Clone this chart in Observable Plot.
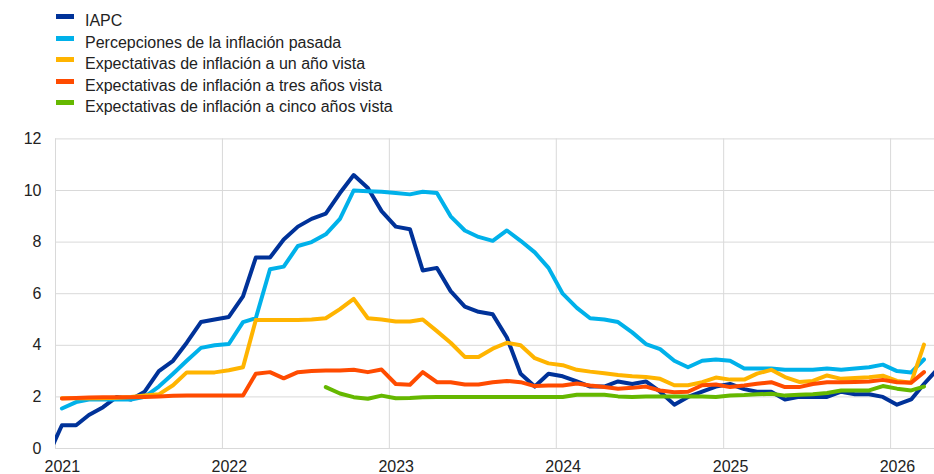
<!DOCTYPE html>
<html>
<head>
<meta charset="utf-8">
<script src="https://cdn.jsdelivr.net/npm/d3@7"></script>
<script src="https://cdn.jsdelivr.net/npm/@observablehq/plot@0.6"></script>
<style>
  body { margin: 0; background: #fff; font-family: "Liberation Sans", Arial, sans-serif; }
  #legend { position: relative; width: 934px; height: 118px; }
  .row { position: absolute; left: 0; height: 21.5px; line-height: 21.5px; font-size: 16px; color: #222; }
  .sw { position: absolute; left: 56px; top: 4px; width: 18px; height: 5px; }
  .lab { position: absolute; left: 85px; top: 0; white-space: nowrap; }
  #chart svg { display: block; }
</style>
</head>
<body>
<div id="legend"></div>
<div id="chart"></div>
<script>
// ---- Series names and colours ----
const seriesNames = [
  "IAPC",
  "Percepciones de la inflación pasada",
  "Expectativas de inflación a un año vista",
  "Expectativas de inflación a tres años vista",
  "Expectativas de inflación a cinco años vista"
];
const seriesColors = ["#003299", "#00B1EA", "#FFB400", "#FF4B00", "#65B800"];

// ---- Monthly values (annual % change) ----
// IAPC: Dec 2020 – Apr 2026
const iapcStart = [2020, 11];
const iapc = [-0.3,
  0.9, 0.9, 1.3, 1.6, 2.0, 1.9, 2.2, 3.0, 3.4, 4.1, 4.9, 5.0,
  5.1, 5.9, 7.4, 7.4, 8.1, 8.6, 8.9, 9.1, 9.9, 10.6, 10.1, 9.2,
  8.6, 8.5, 6.9, 7.0, 6.1, 5.5, 5.3, 5.2, 4.3, 2.9, 2.4, 2.9,
  2.8, 2.6, 2.4, 2.4, 2.6, 2.5, 2.6, 2.2, 1.7, 2.0, 2.2, 2.4,
  2.5, 2.3, 2.2, 2.2, 1.9, 2.0, 2.0, 2.0, 2.2, 2.1, 2.1, 2.0,
  1.7, 1.9, 2.5, 3.1];

// Survey series: Jan 2021 – Mar 2026
const surveyStart = [2021, 0];
const perceived = [
  1.55, 1.8, 1.9, 1.9, 1.9, 1.9, 2.0, 2.4, 2.9, 3.4, 3.9, 4.0,
  4.05, 4.9, 5.05, 6.95, 7.05, 7.85, 8.0, 8.3, 8.9, 10.0, 9.97, 9.95,
  9.9, 9.85, 9.95, 9.9, 9.0, 8.45, 8.2, 8.05, 8.45, 8.05, 7.6, 7.0,
  6.0, 5.45, 5.05, 5.0, 4.9, 4.5, 4.05, 3.85, 3.4, 3.15, 3.4, 3.45,
  3.4, 3.1, 3.1, 3.1, 3.05, 3.05, 3.05, 3.1, 3.05, 3.1, 3.15, 3.25,
  3.0, 2.95, 3.45];
const oneYear = [
  1.95, 1.95, 1.95, 1.95, 1.97, 2.0, 2.05, 2.1, 2.45, 2.95, 2.95, 2.95,
  3.03, 3.15, 4.98, 4.98, 4.98, 4.98, 5.0, 5.05, 5.4, 5.8, 5.05, 5.0,
  4.92, 4.92, 5.0, 4.55, 4.1, 3.55, 3.55, 3.87, 4.1, 4.0, 3.5, 3.3,
  3.23, 3.05, 2.98, 2.92, 2.85, 2.8, 2.77, 2.7, 2.45, 2.45, 2.57, 2.75,
  2.67, 2.67, 2.9, 3.05, 2.77, 2.58, 2.62, 2.83, 2.7, 2.73, 2.76, 2.82,
  2.62, 2.55, 4.03];
const threeYear = [
  1.94, 1.96, 1.98, 1.99, 1.99, 1.99, 2.0, 2.02, 2.04, 2.05, 2.05, 2.05,
  2.05, 2.05, 2.9, 2.96, 2.72, 2.96, 3.0, 3.02, 3.02, 3.05, 2.96, 3.06,
  2.5, 2.47, 2.96, 2.57, 2.57, 2.48, 2.48, 2.57, 2.62, 2.57, 2.42, 2.44,
  2.44, 2.52, 2.44, 2.38, 2.32, 2.35, 2.4, 2.25, 2.18, 2.2, 2.45, 2.48,
  2.38, 2.44, 2.51, 2.57, 2.38, 2.38, 2.5, 2.57, 2.57, 2.58, 2.6, 2.66,
  2.57, 2.55, 2.96];
// Five-year-ahead: Aug 2022 – Mar 2026
const fiveYearStart = [2022, 7];
const fiveYear = [
  2.38, 2.13, 1.99, 1.93, 2.05,
  1.95, 1.96, 1.99, 2.0, 2.0, 2.0, 2.0, 2.0, 2.0, 2.0, 2.0, 2.0,
  2.0, 2.08, 2.08, 2.08, 2.02, 2.0, 2.02, 2.02, 2.02, 2.02, 2.02, 2.0,
  2.05, 2.07, 2.1, 2.12, 2.05, 2.08, 2.1, 2.15, 2.25, 2.25, 2.25, 2.42,
  2.32, 2.25, 2.4];

// ---- Axis ticks ----
const yearLabels = [2021, 2022, 2023, 2024, 2025, 2026];
const yTicks = [0, 2, 4, 6, 8, 10, 12];

// ---- Build table ----
function toRows(name, start, values) {
  return values.map((v, i) => ({
    series: name,
    date: new Date(Date.UTC(start[0], start[1] + i, 15)),
    value: v
  }));
}
const seriesData = [
  toRows(seriesNames[0], iapcStart, iapc),
  toRows(seriesNames[1], surveyStart, perceived),
  toRows(seriesNames[2], surveyStart, oneYear),
  toRows(seriesNames[3], surveyStart, threeYear),
  toRows(seriesNames[4], fiveYearStart, fiveYear)
];

// ---- Legend ----
const legend = document.getElementById("legend");
seriesNames.forEach((name, i) => {
  const row = document.createElement("div");
  row.className = "row";
  row.style.top = (10.25 + 21.5 * i) + "px";
  row.style.width = "934px";
  const sw = document.createElement("span");
  sw.className = "sw";
  sw.style.background = seriesColors[i];
  const lab = document.createElement("span");
  lab.className = "lab";
  lab.textContent = name;
  row.appendChild(sw);
  row.appendChild(lab);
  legend.appendChild(row);
});

// ---- Chart ----
const yearStarts = yearLabels.map(y => new Date(Date.UTC(y, 0, 1)));
const yearMids = yearLabels.map(y => new Date(Date.UTC(y, 0, 16)));

const chart = Plot.plot({
  width: 934,
  height: 356,
  marginLeft: 55,
  marginRight: 0,
  marginTop: 20.4,
  marginBottom: 26,
  style: { fontFamily: "'Liberation Sans', Arial, sans-serif", fontSize: "16px", color: "#222", background: "#fff" },
  x: { type: "utc", domain: [new Date(Date.UTC(2021, 0, 1)), new Date(Date.UTC(2026, 3, 7))] },
  y: { domain: [0, 12] },
  color: { domain: seriesNames, range: seriesColors },
  marks: [
    Plot.ruleY(yTicks, { stroke: "#d9d9d9", strokeWidth: 1 }),
    Plot.ruleX(yearStarts, { stroke: "#d9d9d9", strokeWidth: 1 }),
    Plot.axisY(yTicks, { tickSize: 0, tickPadding: 14, label: null, fontSize: 16 }),
    Plot.axisX(yearMids, { tickSize: 0, tickPadding: 12, label: null, fontSize: 16, tickFormat: d => String(d.getUTCFullYear()) }),
    ...seriesData.map(rows => Plot.line(rows, {
      x: "date", y: "value", stroke: "series",
      strokeWidth: 4, strokeLinejoin: "round", strokeLinecap: "round", clip: true
    }))
  ]
});
document.getElementById("chart").appendChild(chart);
</script>
</body>
</html>
